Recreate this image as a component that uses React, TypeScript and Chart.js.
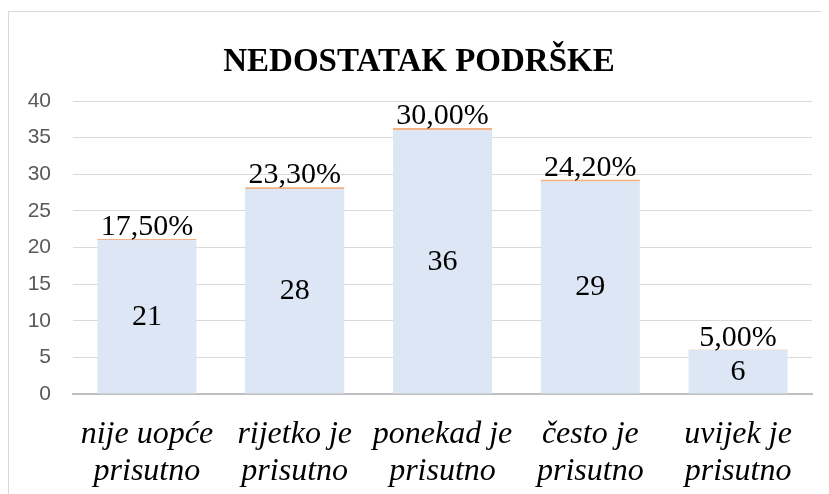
import React, { useEffect, useRef } from "react";
import { Chart, registerables } from "chart.js";

Chart.register(...registerables);

const chartTitle = "NEDOSTATAK PODRŠKE";
const categories: string[][] = [
  ["nije uopće", "prisutno"],
  ["rijetko je", "prisutno"],
  ["ponekad je", "prisutno"],
  ["često je", "prisutno"],
  ["uvijek je", "prisutno"],
];
const counts = [21, 28, 36, 29, 6];
const shares = [0.175, 0.233, 0.3, 0.242, 0.05];
const shareLabels = ["17,50%", "23,30%", "30,00%", "24,20%", "5,00%"];
const yMin = 0;
const yMax = 40;
const yStep = 5;

const SERIF = "'Liberation Serif', 'Times New Roman', serif";

const labelPlugin = {
  id: "labelPlugin",
  afterDraw(chart: any) {
    const ctx = chart.ctx;
    ctx.save();
    // title
    ctx.fillStyle = "#000000";
    ctx.font = `bold 33px ${SERIF}`;
    ctx.textAlign = "center";
    ctx.textBaseline = "alphabetic";
    ctx.fillText(chartTitle, chart.width / 2, 59);

    const m0 = chart.getDatasetMeta(0);
    const m1 = chart.getDatasetMeta(1);
    ctx.font = `30px ${SERIF}`;
    m0.data.forEach((bar: any, i: number) => {
      const cy = (bar.y + bar.base) / 2;
      ctx.textBaseline = "middle";
      ctx.fillText(String(counts[i]), bar.x, cy);
      const top = m1.data[i].y;
      ctx.textBaseline = "alphabetic";
      ctx.fillText(shareLabels[i], bar.x, top - 4);
    });
    ctx.restore();
  },
};

export default function App() {
  const ref = useRef<HTMLCanvasElement | null>(null);

  useEffect(() => {
    if (!ref.current) return;
    const chart = new Chart(ref.current, {
      type: "bar",
      data: {
        labels: categories,
        datasets: [
          {
            label: "Broj",
            data: counts,
            backgroundColor: "#dce6f4",
            barPercentage: 0.67,
            categoryPercentage: 1,
          },
          {
            label: "Postotak",
            data: shares,
            backgroundColor: "#f4b183",
            barPercentage: 0.67,
            categoryPercentage: 1,
          },
        ],
      },
      options: {
        responsive: false,
        animation: false,
        layout: { padding: { top: 89, right: 17, left: 0, bottom: 0 } },
        plugins: {
          legend: { display: false },
          title: { display: false },
          tooltip: { enabled: false },
        },
        scales: {
          x: {
            stacked: true,
            grid: { display: false, drawTicks: false },
            border: { display: true, color: "#bfbfbf", width: 2 },
            ticks: {
              color: "#000000",
              font: { family: SERIF, size: 32, style: "italic", lineHeight: 1.15 },
              padding: 22,
              maxRotation: 0,
              autoSkip: false,
            },
            afterFit(scale: any) {
              scale.height = 100;
            },
          },
          y: {
            stacked: true,
            min: yMin,
            max: yMax,
            grid: { color: "#d9d9d9", lineWidth: 1, drawTicks: false },
            border: { display: false },
            ticks: {
              stepSize: yStep,
              color: "#595959",
              font: { family: "'Liberation Sans', Arial, sans-serif", size: 21 },
              padding: 22,
            },
            afterFit(scale: any) {
              scale.width = 64;
            },
          },
        },
      },
      plugins: [labelPlugin],
    });
    return () => chart.destroy();
  }, []);

  return (
    <div
      style={{
        marginTop: 3,
        width: 821,
        height: 483,
        borderTop: "1px solid #d9d9d9",
        borderLeft: "1px solid #d9d9d9",
        boxSizing: "border-box",
        background: "#ffffff",
      }}
    >
      <canvas ref={ref} width={820} height={482} style={{ display: "block" }} />
    </div>
  );
}
